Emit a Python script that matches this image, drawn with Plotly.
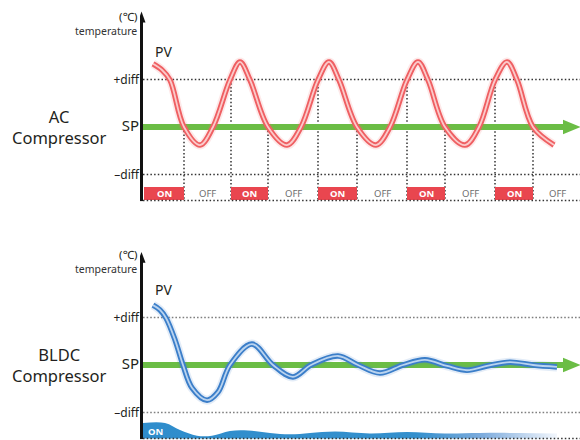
import plotly.graph_objects as go

# ---------------- data (time t, temperature v: SP=0, +diff=1, -diff=-1) ----------------
level_vals = [1, 0, -1]
level_text = ["+diff", "SP", "\u2013diff"]

# AC compressor: PV (on/off control)
ac_t = [1.0, 1.9, 2.7, 4.1, 5.7, 7.0, 8.7, 9.7, 10.7, 12.5, 14.4, 15.8, 17.5, 18.6, 19.6,
        21.4, 23.3, 24.7, 26.4, 27.5, 28.5, 30.2, 32.2, 33.6, 35.2, 36.4, 37.4, 39.0, 41.1]
ac_v = [1.33, 1.20, 0.99, 0.0, -0.38, 0.0, 0.99, 1.37, 0.99, 0.0, -0.38, 0.0, 0.99, 1.37, 0.99,
        0.0, -0.38, 0.0, 0.99, 1.37, 0.99, 0.0, -0.38, 0.0, 0.99, 1.37, 0.99, 0.0, -0.38]
ac_on_start = [0.1, 8.8, 17.5, 26.4, 35.2]
ac_on_end = [4.1, 12.5, 21.4, 30.2, 39.0]
ac_last_off_end = 43.9

# BLDC compressor: PV (inverter control)
bldc_t = [1.0, 1.7, 2.3, 3.2, 4.0, 4.9, 6.4, 7.5, 8.7, 10.9, 13.0, 15.0, 16.8, 19.5, 21.5,
          23.7, 26.0, 28.2, 30.4, 32.4, 34.4, 36.7, 39.0, 41.4]
bldc_v = [1.26, 1.16, 0.99, 0.53, 0.0, -0.48, -0.74, -0.57, 0.0, 0.44, 0.0, -0.25, 0.0, 0.19, 0.0,
          -0.17, 0.0, 0.11, -0.02, -0.11, -0.02, 0.06, 0.0, -0.04]
# BLDC compressor output (ON band top edge)
bldc_on_t = [0.0, 2.2, 3.7, 5.4, 6.9, 8.7, 10.5, 12.7, 14.7, 16.7, 19.2, 22.7, 26.4, 30.2, 33.7, 37.7, 41.4]
bldc_on_v = [-1.22, -1.22, -1.37, -1.49, -1.49, -1.39, -1.38, -1.43, -1.46, -1.43, -1.40, -1.44,
             -1.41, -1.44, -1.43, -1.43, -1.44]

sp_end = 42.1
band_top = -1.263
band_bottom = -1.547

# ---------------- figure ----------------
TXT = "#231f20"
FONT = "Noto Sans, Open Sans, DejaVu Sans, sans-serif"
GREEN = "#6bbd45"

fig = go.Figure()

def pv_traces(t, v, outer, inner, glow, xa, ya):
    fig.add_trace(go.Scatter(x=t, y=v, mode="lines", line=dict(color=glow, width=9, shape="spline"),
                             xaxis=xa, yaxis=ya, hoverinfo="skip"))
    fig.add_trace(go.Scatter(x=t, y=v, mode="lines", line=dict(color=outer, width=5.5, shape="spline"),
                             xaxis=xa, yaxis=ya, hoverinfo="skip"))
    fig.add_trace(go.Scatter(x=t, y=v, mode="lines", line=dict(color=inner, width=1.8, shape="spline"),
                             xaxis=xa, yaxis=ya, hoverinfo="skip"))

# SP lines (green)
for xa, ya in (("x", "y"), ("x2", "y2")):
    fig.add_trace(go.Scatter(x=[0, sp_end], y=[0, 0], mode="lines", line=dict(color=GREEN, width=6),
                             xaxis=xa, yaxis=ya, hoverinfo="skip"))

# BLDC ON band (gradient fill)
fig.add_trace(go.Scatter(x=[bldc_on_t[0], bldc_on_t[-1]], y=[band_bottom, band_bottom], mode="lines",
                         line=dict(width=0), xaxis="x2", yaxis="y2", hoverinfo="skip"))
fig.add_trace(go.Scatter(x=bldc_on_t, y=bldc_on_v, mode="lines", line=dict(width=0, shape="spline"),
                         fill="tonexty",
                         fillgradient=dict(type="horizontal",
                                           colorscale=[[0, "#2f8dcc"], [0.66, "#3490cd"],
                                                       [0.82, "#7eacdd"], [1, "#f2f6fc"]]),
                         xaxis="x2", yaxis="y2", hoverinfo="skip"))

pv_traces(ac_t, ac_v, "#ef5f62", "#fbcaca", "rgba(240,110,110,0.15)", "x", "y")
pv_traces(bldc_t, bldc_v, "#3b7ec9", "#b9d3ef", "rgba(70,130,200,0.15)", "x2", "y2")

shapes = []
dot_dark = dict(color="#333333", width=1.5, dash="1.5px,2.2px")
dot_light = dict(color="#808080", width=1.5, dash="1.6px,2px")

# horizontal dotted lines
for yr, ln in (("y", dot_dark), ("y2", dot_light)):
    for lv in (1, -1):
        shapes.append(dict(type="line", xref="x", yref=yr, x0=0, x1=43.7, y0=lv, y1=lv, line=ln, layer="below"))
    shapes.append(dict(type="line", xref="x", yref=yr, x0=0, x1=43.7, y0=band_bottom, y1=band_bottom,
                       line=dot_dark, layer="above"))

# vertical dotted switching lines (AC)
for s in ac_on_start[1:]:
    shapes.append(dict(type="line", xref="x", yref="y", x0=s, x1=s, y0=1, y1=band_bottom, line=dot_dark, layer="below"))
for e in ac_on_end:
    shapes.append(dict(type="line", xref="x", yref="y", x0=e, x1=e, y0=0, y1=band_bottom, line=dot_dark, layer="below"))

# ON boxes (AC)
for s, e in zip(ac_on_start, ac_on_end):
    shapes.append(dict(type="rect", xref="x", yref="y", x0=s, x1=e, y0=band_bottom + 0.01, y1=band_top,
                       fillcolor="#e9464f", line=dict(width=0), layer="below"))

# vertical axes with arrowheads
for yr, ylo, yhi, tip in (("y", -1.56, 2.22, 2.43), ("y2", -1.56, 2.17, 2.38)):
    shapes.append(dict(type="line", xref="x", yref=yr, x0=-0.15, x1=-0.15, y0=ylo, y1=yhi,
                       line=dict(color="#111", width=3)))
    shapes.append(dict(type="path", xref="x", yref=yr,
                       path=f"M -0.55,{yhi - 0.02} L 0.25,{yhi - 0.02} L -0.15,{tip} Z",
                       fillcolor="#111", line=dict(width=0)))

# SP arrowheads
for yr in ("y", "y2"):
    shapes.append(dict(type="path", xref="x", yref=yr,
                       path=f"M {sp_end - 0.1},-0.155 L {sp_end - 0.1},0.155 L 43.75,0 Z",
                       fillcolor=GREEN, line=dict(width=0)))

annotations = []
def txt(x, y, s, size, color=TXT, xanchor="center", xref="x", yref="y", bold=False):
    annotations.append(dict(x=x, y=y, xref=xref, yref=yref, text=(f"<b>{s}</b>" if bold else s),
                            showarrow=False, xanchor=xanchor, yanchor="middle",
                            font=dict(size=size, color=color, family=FONT)))

for s, e in zip(ac_on_start, ac_on_end):
    txt((s + e) / 2, (band_top + band_bottom) / 2, "ON", 9.5, "white", bold=True)
offs = list(zip(ac_on_end, ac_on_start[1:] + [ac_last_off_end]))
for s, e in offs:
    txt((s + e) / 2, (band_top + band_bottom) / 2, "OFF", 9.5, "#6d6d6d")

txt(0.3, -1.39, "ON", 9.5, "white", xanchor="left", xref="x2", yref="y2", bold=True)

for xr, yr, name in (("x", "y", "AC<br>Compressor"), ("x2", "y2", "BLDC<br>Compressor")):
    txt(2.0, 1.6, "PV", 14, xref=xr, yref=yr)
    txt(-0.003, 2.33, "(\u2103)", 11.5, xanchor="right", xref="paper", yref=yr)
    txt(-0.003, 2.03, "temperature", 10.5, "#333", xanchor="right", xref="paper", yref=yr)
    annotations.append(dict(x=-0.182, y=0.0, xref="paper", yref=yr, text=name, showarrow=False,
                            xanchor="center", yanchor="middle",
                            font=dict(size=16.5, color=TXT, family=FONT)))

ticktext = [f"<span style='font-size:{15 if t == 'SP' else 12}px'>{t}</span>" for t in level_text]
yax = dict(tickmode="array", tickvals=level_vals, ticktext=ticktext, showgrid=False, zeroline=False,
           showline=False, ticks="", tickfont=dict(size=12, color=TXT, family=FONT))

fig.update_layout(
    width=580, height=440, margin=dict(l=140, r=0, t=0, b=0),
    paper_bgcolor="white", plot_bgcolor="white", showlegend=False,
    xaxis=dict(domain=[0, 1], range=[-0.3, 43.7], visible=False, anchor="y"),
    xaxis2=dict(domain=[0, 1], range=[-0.3, 43.7], visible=False, anchor="y2"),
    yaxis=dict(domain=[0.5, 1], range=[-1.9579, 2.6737], anchor="x", **yax),
    yaxis2=dict(domain=[0, 0.5], range=[-1.5789, 3.0526], anchor="x2", **yax),
    shapes=shapes, annotations=annotations,
)

fig.write_html("out.html", config={"displayModeBar": False},
               post_script="document.body.style.margin='0';")
